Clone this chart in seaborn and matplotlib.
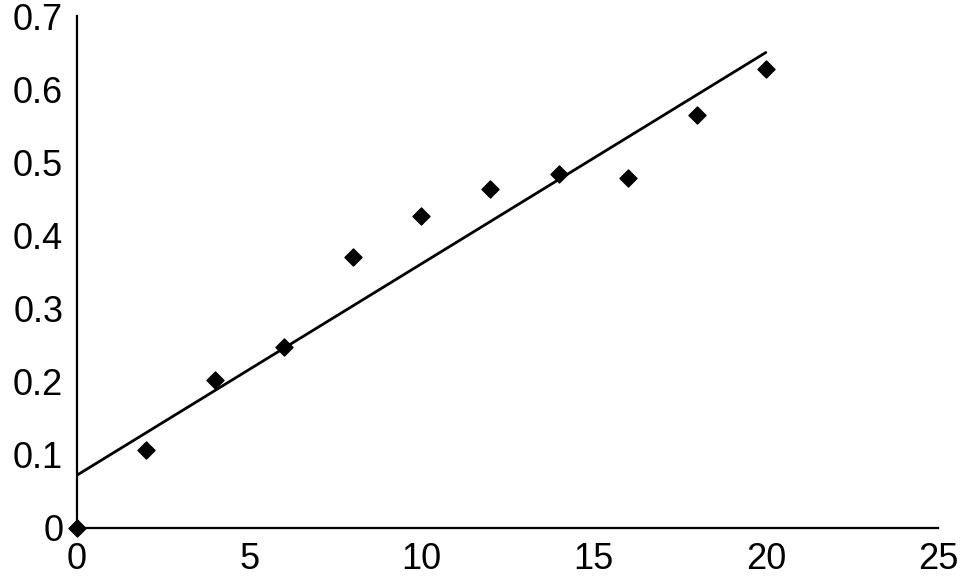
import matplotlib
matplotlib.use("Agg")
import matplotlib.pyplot as plt
import seaborn as sns
import pandas as pd

# Data
x_vals = [0, 2, 4, 6, 8, 10, 12, 14, 16, 18, 20]
y_vals = [0.0, 0.107, 0.203, 0.248, 0.371, 0.426, 0.464, 0.484, 0.479, 0.564, 0.627]
x_ticks = [0, 5, 10, 15, 20, 25]
y_ticks = [0, 0.1, 0.2, 0.3, 0.4, 0.5, 0.6, 0.7]
y_tick_labels = ["0", "0.1", "0.2", "0.3", "0.4", "0.5", "0.6", "0.7"]

df = pd.DataFrame({"x": x_vals, "y": y_vals})

sns.set_style("white")
plt.rcParams["font.family"] = ["Liberation Sans", "DejaVu Sans"]

fig = plt.figure(figsize=(9.69, 5.82), dpi=100)
ax = fig.add_axes([0.0795, 0.0928, 0.8885, 0.8797])

# scatter + least-squares line (line spans the data range 0-20)
sns.regplot(data=df, x="x", y="y", ci=None, ax=ax, color="black",
            marker="D", scatter_kws={"s": 75, "alpha": 1, "zorder": 3,
                                     "clip_on": False},
            line_kws={"linewidth": 2.0})

ax.set_xlim(0, 25)
ax.set_ylim(0, 0.7)
ax.set_xticks(x_ticks)
ax.set_xticklabels([str(t) for t in x_ticks])
ax.set_yticks(y_ticks)
ax.set_yticklabels(y_tick_labels)
ax.set_xlabel("")
ax.set_ylabel("")

sns.despine(ax=ax)
for side in ["left", "bottom"]:
    ax.spines[side].set_linewidth(1.6)
    ax.spines[side].set_color("black")

ax.tick_params(direction="in", length=7, width=1.5, colors="black",
               labelsize=26, pad=10)

fig.savefig("out.png", dpi=100)
